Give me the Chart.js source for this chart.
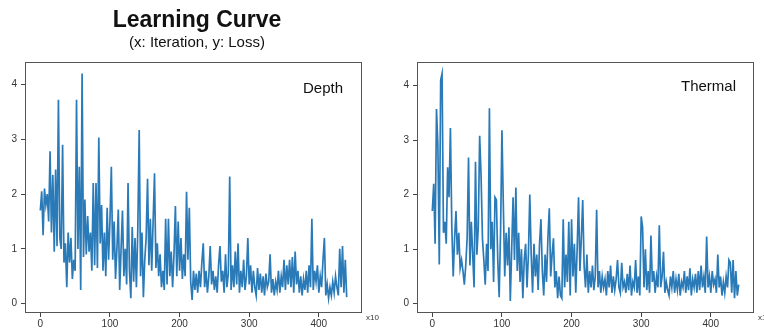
<!DOCTYPE html>
<html>
<head>
<meta charset="utf-8">
<script src="https://cdn.jsdelivr.net/npm/chart.js"></script>
<style>
  body { margin: 0; background: #fff; }
  #wrap { position: relative; width: 764px; height: 329px; overflow: hidden; font-family: "Liberation Sans", Arial, sans-serif; }
  canvas { position: absolute; top: 0; }
  .txt { position: absolute; white-space: nowrap; line-height: 1; color: #111; }
</style>
</head>
<body>
<div id="wrap">
  <canvas id="grafico-depth" width="382" height="329" style="left:0"></canvas>
  <canvas id="grafico-thermal" width="372" height="329" style="left:392px"></canvas>
  <div class="txt" style="left:97px; width:200px; text-align:center; top:8px; font-size:23px; font-weight:bold;">Learning Curve</div>
  <div class="txt" style="left:97px; width:200px; text-align:center; top:34px; font-size:15px;">(x: Iteration, y: Loss)</div>
  <div class="txt" style="left:303px; top:80px; font-size:15px;">Depth</div>
  <div class="txt" style="left:681px; top:78px; font-size:15px;">Thermal</div>
  <div class="txt" style="left:366px; top:314px; font-size:8px; color:#333;">x10</div>
  <div class="txt" style="left:758px; top:314px; font-size:8px; color:#333;">x10</div>
</div>
<script>
// loss values, one every 2 iterations (x10)
const iterStep = 2;

const depthLoss = [
    1.7, 2.05, 1.25, 2.1, 1.8, 2.0, 1.5, 2.78, 1.3, 2.35,
    0.95, 2.45, 1.05, 3.72, 1.2, 1.0, 2.9, 0.75, 1.1, 0.3,
    1.3, 0.75, 1.2, 0.45, 0.8, 0.6, 3.72, 1.0, 2.5, 0.25,
    4.2, 0.85, 1.9, 0.9, 1.6, 0.95, 1.3, 0.6, 2.2, 0.7,
    2.2, 0.65, 3.03, 1.1, 1.8, 0.6, 1.3, 0.5, 1.75, 0.8,
    1.5, 2.5, 0.8, 1.5, 0.45, 1.0, 1.72, 0.25, 1.0, 1.7,
    0.5, 1.0, 0.35, 2.2, 0.6, 0.1, 1.4, 0.4, 1.2, 0.3,
    1.35, 3.17, 0.5, 1.3, 0.12, 0.8, 1.2, 2.28, 0.7, 1.55,
    0.6, 1.5, 2.38, 0.65, 1.1, 0.5, 0.9, 0.3, 0.6, 0.25,
    1.55, 0.35, 1.55, 0.5, 0.95, 0.3, 0.9, 1.78, 0.5, 1.5,
    0.6, 1.2, 0.45, 0.9, 0.5, 2.04, 0.8, 1.75, 0.4, 0.07,
    0.6, 0.25, 0.55, 0.2, 0.6, 0.3, 0.75, 1.1, 0.3, 0.6,
    0.2, 0.5, 1.05, 0.35, 0.6, 0.25, 0.5, 0.2, 0.7, 1.05,
    0.4, 0.6, 0.2, 0.9, 0.3, 0.55, 2.32, 0.25, 0.7, 0.3,
    0.95, 0.35, 1.1, 0.2, 0.6, 0.3, 0.8, 0.25, 0.5, 1.2,
    0.35, 0.7, 0.2, 0.6, 0.3, 0.15, 0.65, 0.25, 0.55, 0.2,
    0.5, 0.15, 0.55, 0.3, 0.4, 0.9, 0.2, 0.45, 0.15, 0.4,
    0.25, 0.6, 0.2, 0.5, 0.3, 0.8, 0.25, 0.7, 0.35, 0.8,
    0.3, 0.85, 0.2, 0.95, 0.35, 0.6, 0.2, 0.5, 0.15, 0.45,
    0.25, 0.6, 0.2, 0.7, 0.3, 1.55, 0.25, 0.6, 0.4, 0.7,
    0.2, 0.5, 0.3, 0.8, 1.2, 0.15, 0.35, 0.1, 0.3, 0.15,
    0.4, 0.2, 0.5, 0.3, 0.15, 1.0, 0.3, 1.05, 0.2, 0.8,
    0.12
];

const thermalLoss = [
    1.7, 2.2, 1.1, 3.57, 2.9, 0.72, 4.1, 4.22, 1.3, 1.5,
    1.1, 2.5, 1.95, 3.22, 1.4, 0.5, 1.2, 1.7, 0.9, 1.3,
    0.65, 0.8, 0.6, 0.35, 0.7, 1.2, 2.68, 0.7, 1.5, 0.9,
    0.3, 2.6, 0.9, 1.4, 3.08, 2.35, 1.2, 0.8, 0.35, 1.1,
    0.6, 3.58, 1.0, 1.5, 0.4, 1.95, 1.9, 0.8, 0.12, 1.3,
    3.18, 1.8, 0.5, 1.3, 0.7, 1.4, 0.05, 1.0, 1.95, 0.8,
    2.13, 0.6, 1.3, 0.4, 1.0, 0.1, 0.8, 1.1, 0.3, 0.9,
    2.0, 0.9, 0.2, 1.1, 0.5, 0.9, 0.25, 1.1, 1.55, 0.6,
    0.15, 0.9, 0.4, 1.2, 1.75, 0.5, 0.9, 1.2, 0.3, 0.6,
    0.1, 0.5, 0.15, 0.1, 1.55, 0.3, 0.9, 0.4, 1.5, 0.15,
    1.55, 0.5, 1.1, 0.2, 1.0, 1.95, 0.6, 1.2, 1.9, 0.7,
    0.3, 0.9, 0.2, 0.6, 0.3, 0.7, 0.25, 0.5, 1.72, 0.3,
    0.6, 0.2, 0.5, 0.3, 0.45, 0.15, 0.6, 0.3, 0.7, 0.2,
    0.5, 0.25, 0.45, 0.8, 0.3, 0.2, 0.75, 0.3, 0.4, 0.2,
    0.55, 0.25, 0.7, 0.15, 0.4, 0.3, 0.8, 0.2, 0.5, 0.15,
    1.6, 1.4, 0.3, 1.0, 0.25, 0.6, 0.2, 1.25, 0.4, 0.6,
    0.2, 0.5, 0.3, 1.44, 0.3, 0.5, 0.95, 0.2, 0.4, 0.25,
    0.15, 0.5, 0.3, 0.6, 0.2, 0.45, 0.25, 0.55, 0.15, 0.4,
    0.3, 0.6, 0.2, 0.5, 0.25, 0.65, 0.15, 0.45, 0.3, 0.55,
    0.2, 0.6, 0.25, 0.7, 0.3, 0.5, 0.2, 1.23, 0.3, 0.5,
    0.2, 0.6, 0.35, 0.45, 0.2, 0.9, 0.3, 0.5, 0.15, 0.4,
    0.2, 0.5, 0.3, 0.8, 0.75, 0.2, 0.8, 0.1, 0.6, 0.15,
    0.35
];

const xTicks = [0, 100, 200, 300, 400];
const yTicks = [0, 1, 2, 3, 4];

function toPoints(vals) {
    return vals.map(function (v, i) { return { x: i * iterStep, y: v }; });
}

// matplotlib style box round the plot area
const framePlugin = {
    id: 'frame',
    afterDraw(chart) {
        const ctx = chart.ctx;
        const a = chart.chartArea;
        ctx.save();
        ctx.strokeStyle = '#555';
        ctx.lineWidth = 1;
        ctx.strokeRect(a.left + 0.5, a.top + 0.5, a.right - a.left - 1, a.bottom - a.top - 1);
        ctx.restore();
    }
};

function makeChart(id, values, yMax, padRight) {
    const ctx = document.getElementById(id).getContext('2d');
    return new Chart(ctx, {
        type: 'line',
        data: {
            datasets: [{
                data: toPoints(values),
                borderColor: '#2a7ab8',
                borderWidth: 1.7,
                pointRadius: 0,
                tension: 0,
                fill: false
            }]
        },
        options: {
            responsive: false,
            animation: false,
            layout: { padding: { top: 62, right: padRight, left: 0, bottom: 0 } },
            plugins: { legend: { display: false }, tooltip: { enabled: false } },
            scales: {
                x: {
                    type: 'linear',
                    min: -22,
                    max: 462,
                    afterBuildTicks: function (s) { s.ticks = xTicks.map(function (v) { return { value: v }; }); },
                    afterFit: function (s) { s.height = 16; },
                    grid: { drawOnChartArea: false, tickLength: 4, color: '#444' },
                    border: { display: false },
                    ticks: { autoSkip: false, maxRotation: 0, padding: 1, color: '#333', font: { size: 10, family: 'Liberation Sans' } }
                },
                y: {
                    min: -0.17,
                    max: yMax,
                    afterBuildTicks: function (s) { s.ticks = yTicks.map(function (v) { return { value: v }; }); },
                    afterFit: function (s) { s.width = 25; },
                    grid: { drawOnChartArea: false, tickLength: 4, color: '#444' },
                    border: { display: false },
                    ticks: { padding: 4, color: '#333', font: { size: 10, family: 'Liberation Sans' } }
                }
            }
        },
        plugins: [framePlugin]
    });
}

makeChart('grafico-depth', depthLoss, 4.41, 20);
makeChart('grafico-thermal', thermalLoss, 4.43, 10);
</script>
</body>
</html>
